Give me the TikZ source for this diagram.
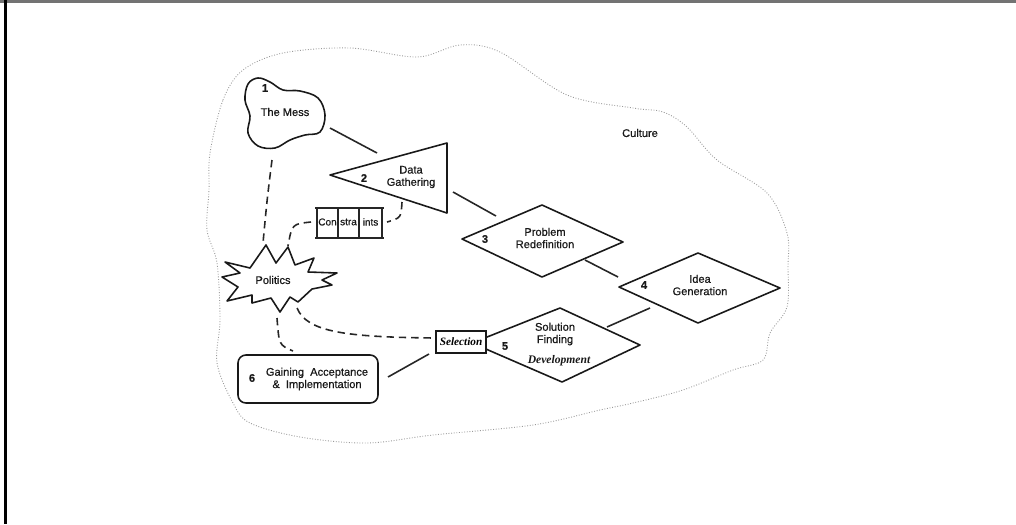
\documentclass[tikz,border=0pt]{standalone}
\usepackage{fontspec}
\setmainfont{Liberation Sans}
\newfontfamily\lblfont[FakeBold=0.6]{Liberation Sans}
\newfontfamily\selfont{Liberation Serif}
\begin{document}
\begin{tikzpicture}[x=0.02cm,y=-0.02cm,
  shp/.style={draw=black!90, line width=0.9pt, fill=white, line join=round},
  conn/.style={draw=black!85, line width=0.9pt},
  dashconn/.style={draw=black!85, line width=0.9pt, dash pattern=on 4.2pt off 2.8pt},
  lbl/.style={font=\fontsize{6.3}{7}\selectfont\lblfont, align=center, inner sep=0pt, text=black!90},
  num/.style={font=\fontsize{6.3}{7}\selectfont\lblfont\bfseries, inner sep=0pt, text=black!90},
  small/.style={font=\fontsize{5.7}{6.5}\selectfont\lblfont, inner sep=0pt, text=black!90},
  itl/.style={font=\fontsize{6.6}{7.4}\selectfont\selfont\bfseries\itshape, inner sep=0pt, text=black!90},
  culture/.style={draw=black!40, line width=0.5pt, dash pattern=on 0.5pt off 1pt}]
\useasboundingbox (0,0) rectangle (1016,524);
\fill[white] (0,0) rectangle (1016,524);
% frame
\draw[black!55, line width=1.3pt] (0,1.5) -- (1016,1.5);
\draw[black, line width=1.6pt] (5.5,0) -- (5.5,524);

% culture boundary
\draw[culture] plot[smooth cycle, tension=0.55] coordinates {
 (210,153) (223,100) (243,70) (283,53) (350,48) (417,57) (460,45) (500,52)
 (567,95) (633,108) (663,112) (687,127) (717,160) (767,193) (787,233)
 (788,267) (787,307) (770,333) (763,360) (733,370) (683,390) (633,403)
 (600,410) (533,425) (433,435) (367,443) (300,437) (250,423) (233,403)
 (217,363) (220,320) (217,263) (207,230) (209,190)};
\node[lbl] (culture) at (640,133) {Culture};

% 1 The Mess
\draw[shp] plot[smooth cycle, tension=0.6] coordinates {
 (248,84) (258,78) (270,82) (283,90) (300,91) (318,98) (325,115) (320,132)
 (305,135) (290,140) (275,148) (258,146) (248,133) (250,116) (245,100)};
\node[num] (n1) at (265,88) {1};
\node[lbl] (mess) at (285,112) {The Mess};

% 2 Data Gathering
\draw[shp] (330,175) coordinate (dgL) -- (447,143) coordinate (dgT)
  -- (447,213) coordinate (dgB) -- cycle;
\node[num] (n2) at (364,178) {2};
\node[lbl] (data) at (411,177) {Data\\Gathering};

% Constraints
\draw[black!85, line width=0.9pt] (315,208) coordinate (cTL) -- (384,208);
\draw[black!85, line width=0.9pt] (315,238) -- (384,238) coordinate (cBR);
\foreach \x in {317,338,359,382} \draw[black!85, line width=0.9pt] (\x,208) -- (\x,238);
\node[small] (con) at (327.5,222) {Con};
\node[small] (stra) at (348.5,222) {stra};
\node[small] (ints) at (370.5,222) {ints};
\coordinate (constR) at (387,222);
\coordinate (constL) at (311,222);

% 3 Problem Redefinition
\draw[shp] (462,239) coordinate (prL) -- (542,205) coordinate (prT)
  -- (623,242) coordinate (prR) -- (542,277) coordinate (prB) -- cycle;
\node[num] (n3) at (485,239) {3};
\node[lbl] (prob) at (545,238) {Problem\\Redefinition};

% 4 Idea Generation
\draw[shp] (619,287) coordinate (igL) -- (698,253) coordinate (igT)
  -- (780,288) coordinate (igR) -- (698,323) coordinate (igB) -- cycle;
\node[num] (n4) at (644,285) {4};
\node[lbl] (idea) at (700,285) {Idea\\Generation};

% 5 Solution Finding
\draw[shp] (472,343) coordinate (sfL) -- (560,308) coordinate (sfT)
  -- (640,345) coordinate (sfR) -- (562,382) coordinate (sfB) -- cycle;
\node[num] (n5) at (505,346) {5};
\node[lbl] (sol) at (555,334) {Solution\\Finding};
\node[itl] (dev) at (559,361) {Development};

% Selection
\node[draw=black!90, line width=0.9pt, fill=white, minimum width=1cm, minimum height=0.44cm,
  inner sep=0pt, font=\fontsize{6.4}{7}\selectfont\selfont\bfseries\itshape] (sel) at (461,342) {Selection};

% Politics
\draw[shp] (225,262) -- (250,268) -- (266,245) -- (276,263) -- (288,247) -- (295,265)
 -- (314,258) -- (308,272) -- (337,273) -- (322,280) -- (332,285) -- (312,289)
 -- (298,302) -- (290,297) -- (280,312) -- (271,298) -- (252,303) -- (252,295)
 -- (227,301) -- (238,287) -- (222,277) -- (240,273) -- cycle;
\node[lbl] (pol) at (273,280) {Politics};

% 6 Gaining Acceptance
\node[draw=black!90, line width=0.9pt, rounded corners=4.5pt, minimum width=2.8cm,
  minimum height=0.96cm] (gain) at (308,379) {};
\node[num] (n6) at (252,378) {6};
\node[lbl] (gaintxt) at (317,379) {Gaining\ \ Acceptance\\\&\ \ Implementation};

% solid connectors
\coordinate (messout) at (330,128); \coordinate (datain) at (377,153);
\draw[conn] (messout) -- (datain);
\coordinate (dataout) at (453,192); \coordinate (probin) at (496,216);
\draw[conn] (dataout) -- (probin);
\coordinate (probout) at (585,260); \coordinate (ideain) at (618,277);
\draw[conn] (probout) -- (ideain);
\coordinate (ideaout) at (650,308); \coordinate (solin) at (607,327);
\draw[conn] (ideaout) -- (solin);
\coordinate (selout) at (429,354); \coordinate (gainin) at (388,377);
\draw[conn] (selout) -- (gainin);

% dashed connectors
\coordinate (messdash) at (272,160); \coordinate (poltop) at (263,243);
\draw[dashconn] (messdash) .. controls (267,200) .. (poltop);
\coordinate (datadash) at (402,202);
\draw[dashconn] (datadash) .. controls (401,218) .. (constR);
\coordinate (polspike) at (288,246);
\draw[dashconn] (constL) .. controls (292,224) .. (polspike);
\coordinate (polbot) at (277,318); \coordinate (gaintop) at (293,351);
\draw[dashconn] (polbot) .. controls (279,345) .. (gaintop);
\coordinate (polright) at (297,308); \coordinate (selin) at (434,338);
\draw[dashconn] (polright) .. controls (307,332) and (345,337) .. (selin);
\end{tikzpicture}
\end{document}
